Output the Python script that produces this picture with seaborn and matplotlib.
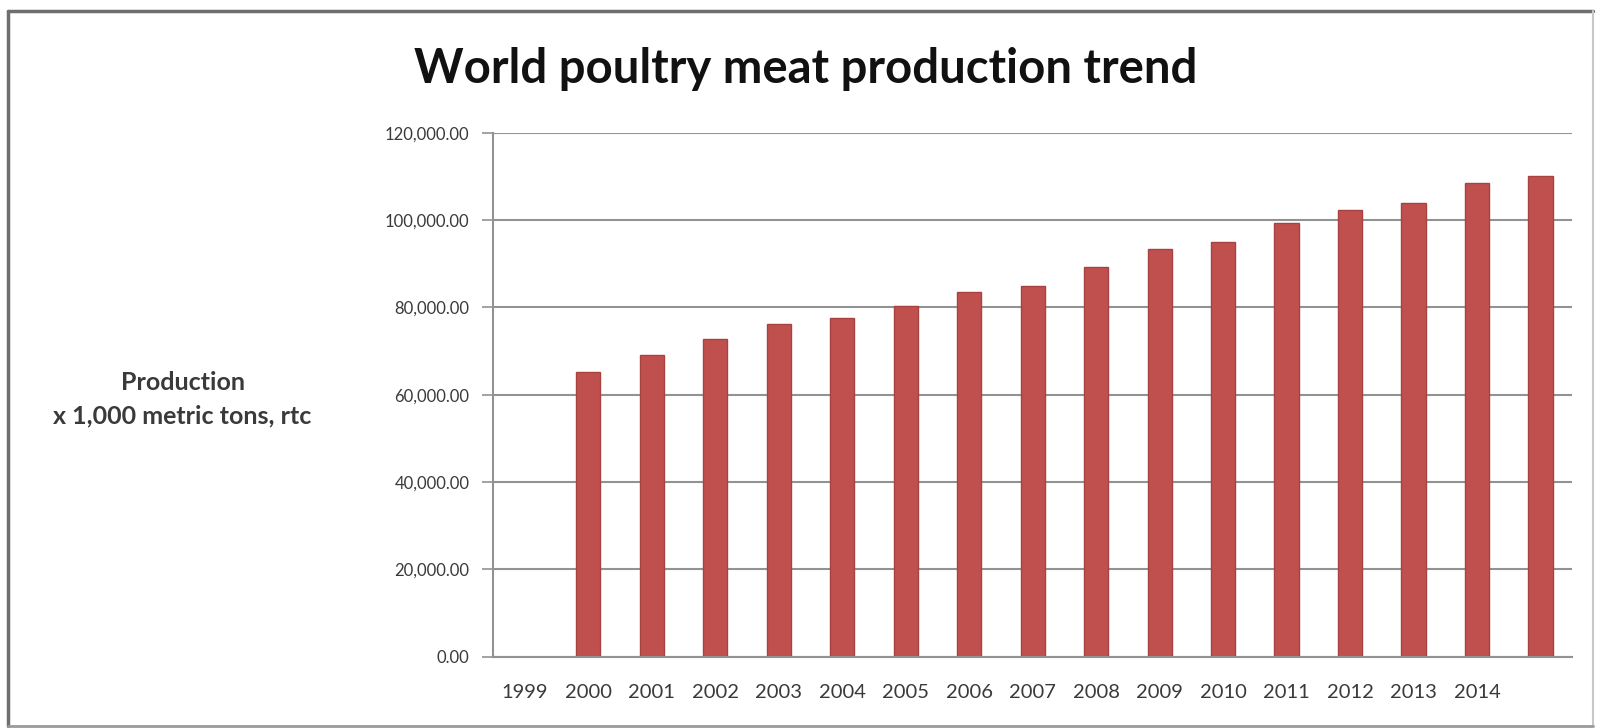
import pandas as pd
import matplotlib.pyplot as plt
import seaborn as sns
from matplotlib.lines import Line2D
from matplotlib.ticker import FuncFormatter

# Category slots on the x axis (1999 has no bar)
years = ['1999', '2000', '2001', '2002', '2003', '2004', '2005', '2006', '2007',
         '2008', '2009', '2010', '2011', '2012', '2013', '2014', '2015']
# Labels as printed under the axis (last slot unlabelled)
tick_labels = ['1999', '2000', '2001', '2002', '2003', '2004', '2005', '2006', '2007',
               '2008', '2009', '2010', '2011', '2012', '2013', '2014', '']

bar_years = ['2000', '2001', '2002', '2003', '2004', '2005', '2006', '2007',
             '2008', '2009', '2010', '2011', '2012', '2013', '2014', '2015']
production = [65300, 69200, 72800, 76300, 77500, 80300, 83500, 85000,
              89200, 93300, 94900, 99400, 102200, 104000, 108600, 110000]

df = pd.DataFrame({'year': bar_years, 'production': production})

sns.set_theme(style='white')
plt.rcParams['font.family'] = ['Lato', 'DejaVu Sans']

fig = plt.figure(figsize=(16.01, 7.28), dpi=100)
ax = fig.add_axes([0.308, 0.098, 0.674, 0.7196])

sns.barplot(data=df, x='year', y='production', order=years, color='#C0504D',
            saturation=1, width=0.38, edgecolor='#A8423F', linewidth=1, ax=ax)

# Axes styling
ax.set_ylim(0, 120000)
ax.set_yticks([0, 20000, 40000, 60000, 80000, 100000, 120000])
ax.yaxis.set_major_formatter(FuncFormatter(lambda v, p: f'{v:,.2f}'))
ax.yaxis.grid(True, color='#929292', linewidth=1.5)
ax.set_axisbelow(True)

ax.set_xlim(-0.5, 16.5)
ax.set_xticks(range(len(years)))
ax.set_xticklabels(tick_labels)
ax.set_xticks([i - 0.5 for i in range(len(years) + 1)], minor=True)
ax.tick_params(axis='x', which='major', length=0, pad=20, labelsize=14.5, labelcolor='#3A3A3A')
ax.tick_params(axis='x', which='minor', length=8, width=1.2, color='#929292', direction='out')
ax.tick_params(axis='y', length=8, width=1.2, color='#929292', direction='out', pad=9,
               labelsize=12, labelcolor='#3A3A3A', left=True)

for s in ['top', 'right']:
    ax.spines[s].set_visible(False)
for s in ['left', 'bottom']:
    ax.spines[s].set_color('#929292')
    ax.spines[s].set_linewidth(1.5)

ax.set_xlabel('')
ax.set_ylabel('')

fig.text(0.114, 0.452, 'Production\nx 1,000 metric tons, rtc', ha='center', va='center',
         fontsize=18, fontweight='bold', color='#3A3A3A', linespacing=1.55)
fig.text(0.503, 0.905, 'World poultry meat production trend', ha='center', va='center',
         fontsize=34, fontweight='bold', color='#111111')

# Picture frame
fig.add_artist(Line2D([0.005, 0.005], [0.003, 0.985], color='#6E6E6E', linewidth=2.5))
fig.add_artist(Line2D([0.005, 0.995], [0.985, 0.985], color='#6E6E6E', linewidth=2.5))
fig.add_artist(Line2D([0.995, 0.995], [0.003, 0.985], color='#C8C8C8', linewidth=1.5))
fig.add_artist(Line2D([0.005, 0.995], [0.003, 0.003], color='#9A9A9A', linewidth=2))

fig.savefig('out.png', dpi=100)
